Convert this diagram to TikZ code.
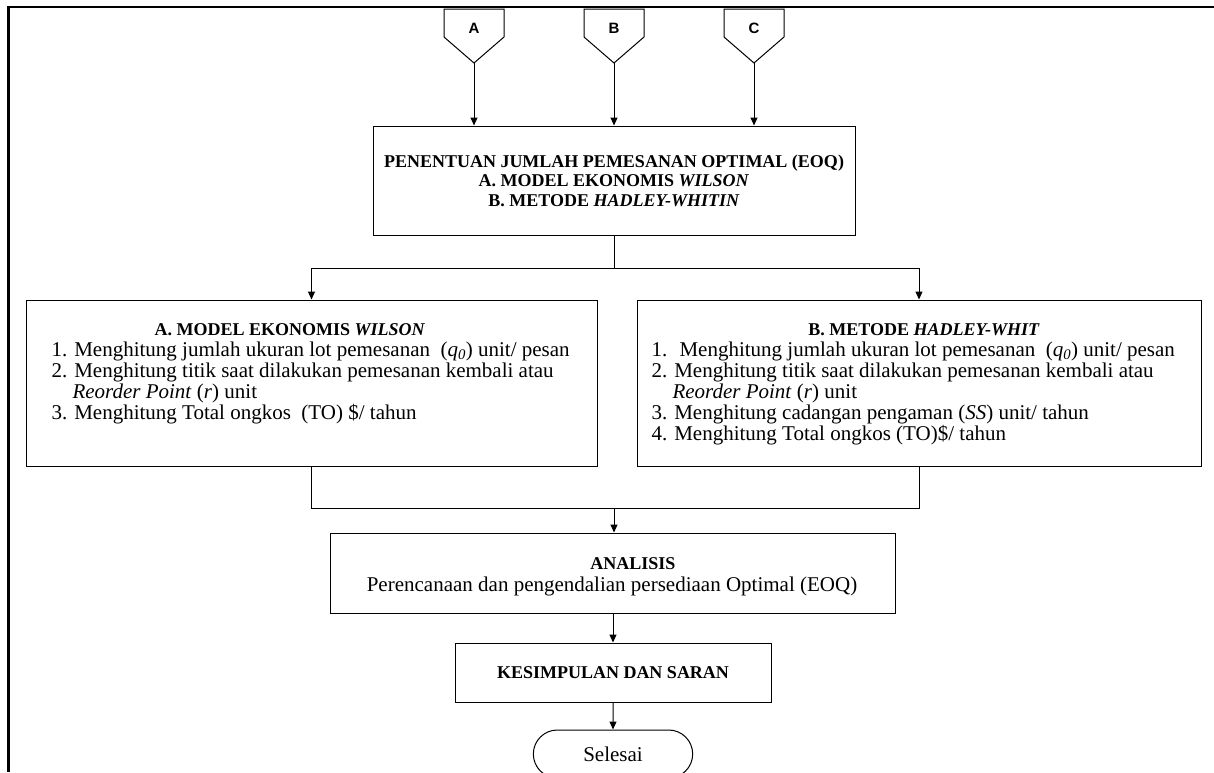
\documentclass[tikz,border=0pt]{standalone}
\usepackage{fontspec}
\setmainfont{Liberation Serif}
\newfontfamily\tagfont{Liberation Sans}
\usetikzlibrary{arrows.meta,shapes.misc}

\begin{document}
\begin{tikzpicture}[x=1pt,y=-1pt,
  box/.style={draw, line width=1pt, inner sep=0pt},
  ln/.style={line width=1pt},
  arr/.style={-{Triangle[length=8pt,width=7pt]}, line width=1pt},
  hd/.style={font=\fontsize{18}{19.5}\selectfont\bfseries, align=center},
  txt/.style={font=\fontsize{21}{21.2}\selectfont, align=left},
  tag/.style={font=\tagfont\bfseries\fontsize{15}{17}\selectfont}]
\clip (0,0) rectangle (1214,772);
\draw[line width=2.6pt] (8.5,772) -- (8.5,7) -- (1214,7);
% off-page connectors
\draw[ln] (444,9) -- (504,9) -- (504,37) -- (474,63) -- (444,37) -- cycle;
\node[tag] (lA) at (474,28) {A};
\coordinate (tA) at (474,63);
\draw[ln] (584,9) -- (644,9) -- (644,37) -- (614,63) -- (584,37) -- cycle;
\node[tag] (lB) at (614,28) {B};
\coordinate (tB) at (614,63);
\draw[ln] (724,9) -- (784,9) -- (784,37) -- (754,63) -- (724,37) -- cycle;
\node[tag] (lC) at (754,28) {C};
\coordinate (tC) at (754,63);
% EOQ
\node[box, hd, minimum width=482, minimum height=109] (box0) at (614,180.5)
  {PENENTUAN JUMLAH PEMESANAN OPTIMAL (EOQ)\\
   A. MODEL EKONOMIS \textit{WILSON}\\
   B. METODE \textit{HADLEY-WHITIN}};
\draw[arr] (tA) -- (tA |- box0.north);
\draw[arr] (tB) -- (box0.north);
\draw[arr] (tC) -- (tC |- box0.north);
% Wilson
\node[box, minimum width=571, minimum height=166] (box1) at (311.5,383) {};
\node[hd] (h1) at (290,330) {A. MODEL EKONOMIS \textit{WILSON}};
\node[txt, anchor=west] (t1) at (48,383)
  {1. Menghitung jumlah ukuran lot pemesanan \ (\textit{q\textsubscript{0}}) unit/ pesan\\
   2. Menghitung titik saat dilakukan pemesanan kembali atau\\
   \phantom{2.~}\textit{Reorder Point} (\textit{r}) unit\\
   3. Menghitung Total ongkos \ (TO) \$/ tahun};
% Hadley-Whitin
\node[box, minimum width=564, minimum height=166] (box2) at (919,383) {};
\node[hd] (h2) at (924,330) {B. METODE \textit{HADLEY-WHIT}};
\node[txt, anchor=west] (t2) at (648,393.5)
  {1. \ Menghitung jumlah ukuran lot pemesanan \ (\textit{q\textsubscript{0}}) unit/ pesan\\
   2. Menghitung titik saat dilakukan pemesanan kembali atau\\
   \phantom{2.~}\textit{Reorder Point} (\textit{r}) unit\\
   3. Menghitung cadangan pengaman (\textit{SS}) unit/ tahun\\
   4. Menghitung Total ongkos (TO)\$/ tahun};
\coordinate (split) at (614,268);
\draw[ln] (box0) -- (split);
\draw[arr] (split) -| (box1.north);
\draw[arr] (split) -| (box2.north);
% analisis
\node[box, minimum width=565, minimum height=80] (box3) at (612.5,573) {};
\node[hd] (h3) at (633,564) {ANALISIS};
\node[txt] (t3) at (612,586) {Perencanaan dan pengendalian persediaan Optimal (EOQ)};
\coordinate (join) at (614,508);
\draw[ln] (box1.south) |- (join);
\draw[ln] (box2.south) |- (join);
\draw[arr] (join) -- (join |- box3.north);
% kesimpulan
\node[box, hd, minimum width=316, minimum height=59] (box4) at (613,672.5) {KESIMPULAN DAN SARAN};
\draw[arr] (box4.north |- box3.south) -- (box4);
\node[draw, line width=1pt, rounded rectangle, minimum width=166, minimum height=48,
  font=\fontsize{21}{21}\selectfont] (end) at (613,754) {Selesai};
\draw[arr] (box4) -- (end);
\end{tikzpicture}
\end{document}
